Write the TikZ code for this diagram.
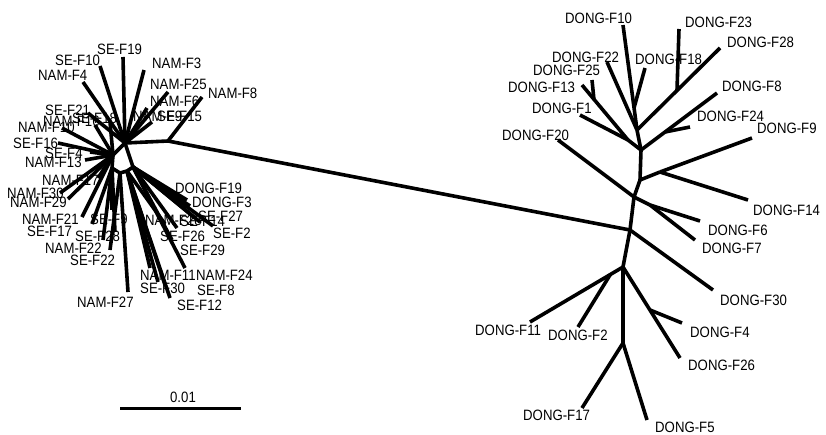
\documentclass[tikz,border=0pt]{standalone}
\usepackage{fontspec}
\newfontfamily\labfont[FakeStretch=0.88]{Liberation Sans}
\tikzset{
  br/.style={line width=3.6pt, line join=round},
  lab/.style={font={\labfont\fontsize{15}{15}\selectfont}, anchor=west, inner sep=0pt, text=black},
}
\begin{document}
\begin{tikzpicture}[x=1pt,y=-1pt]
\useasboundingbox (0,0) rectangle (826,434);
% ---------- left cluster hubs ----------
\coordinate (HU) at (125,143);
\coordinate (HM) at (113,155);
\coordinate (HLa) at (112,168);
\coordinate (HLb) at (120,173);
\coordinate (HLc) at (127,171);
\coordinate (HLd) at (133,167);
\coordinate (J) at (168,141);
% ---------- right tree internal nodes ----------
\coordinate (R1) at (630,230);
\coordinate (N2) at (634,197);
\coordinate (N3) at (640,180);
\coordinate (N4) at (641,150);
\coordinate (N5) at (637,130);
\coordinate (N10) at (634,108);
\coordinate (N23) at (677,90);
\coordinate (N1325) at (594,100);
\coordinate (NL) at (628,140);
\coordinate (N824) at (665,132);
\coordinate (N914) at (660,172);
\coordinate (N6) at (650,205);
\coordinate (N7) at (623,267);
\coordinate (N2x) at (610,275);
\coordinate (N426) at (650,310);
\coordinate (N8) at (623,343);
% backbone
\draw[br] (HM) -- (HU) -- (J) -- (R1);
\draw[br] (HM) -- (HLa) -- (HLb) -- (HLc) -- (HLd) -- (HU);
\draw[br] (N8) -- (N7) -- (R1) -- (N2) -- (N3) -- (N4) -- (N5);
\draw[br] (N3) -- (N914);
\draw[br] (N4) -- (NL);
% ---------- leaves: label / label pos / tip / hub ----------
\foreach \n/\lx/\ly/\tx/\ty/\h in {
  SE-F19/97/49/123/57/HU,
  SE-F10/55/60/100/66/HU,
  NAM-F3/152/63/144/70/HU,
  NAM-F4/38/75/83/82/HU,
  NAM-F25/150/84/168/92/HU,
  NAM-F8/208/93/202/97/J,
  NAM-F6/150/101/147/108/HU,
  NAM-F9/133/116/138/124/HU,
  SE-F15/157/116/152/122/HU,
  SE-F21/45/110/88/113/HU,
  NAM-F10/18/127/62/128/HM,
  NAM-F16/43/121/95/125/HM,
  SE-F18/72/118/110/122/HM,
  SE-F16/13/143/58/143/HM,
  SE-F4/45/153/90/152/HM,
  NAM-F13/25/162/85/160/HM,
  NAM-F17/42/180/98/178/HM,
  NAM-F30/7/193/60/193/HM,
  NAM-F29/10/202/68/199/HM,
  NAM-F21/22/219/82/217/HM,
  SE-F17/27/231/92/224/HLa,
  SE-F9/90/219/112/210/HLa,
  SE-F28/75/236/115/232/HLa,
  NAM-F22/45/248/103/240/HLa,
  SE-F22/70/260/110/250/HLb,
  NAM-F27/77/302/128/292/HLb,
  NAM-F11/140/275/150/268/HLc,
  SE-F30/140/288/158/282/HLc,
  NAM-F24/196/275/185/268/HLd,
  SE-F8/197/290/165/285/HLc,
  SE-F12/177/305/170/298/HLc,
  DONG-F19/175/188/187/200/HLd,
  DONG-F3/192/202/190/206/HLd,
  SE-F27/198/216/200/222/HLd,
  SE-F2/213/233/213/226/HLd,
  SE-F26/160/236/177/228/HLd,
  SE-F29/180/250/172/240/HLd,
  NAM-F28/145/220/165/224/HLc,
  SE-F14/180/221/195/218/HLd,
  DONG-F10/565/18/623/25/N5,
  DONG-F23/685/22/679/29/N23,
  DONG-F28/727/42/720/48/N5,
  DONG-F22/552/57/607/62/N5,
  DONG-F18/635/59/645/68/N10,
  DONG-F25/533/70/592/80/N1325,
  DONG-F13/508/87/582/85/NL,
  DONG-F8/722/86/717/93/N4,
  DONG-F1/532/108/580/115/NL,
  DONG-F24/697/116/690/127/N824,
  DONG-F9/757/128/752/138/N914,
  DONG-F20/502/135/558/140/N2,
  DONG-F14/753/210/748/200/N914,
  DONG-F6/708/230/700/221/N6,
  DONG-F7/702/248/695/240/N6,
  DONG-F30/720/300/713/290/R1,
  DONG-F11/475/330/530/322/N7,
  DONG-F2/548/335/578/327/N2x,
  DONG-F4/690/332/682/323/N426,
  DONG-F26/688/365/680/358/N7,
  DONG-F17/523/415/582/408/N8,
  DONG-F5/655/427/647/420/N8}{
  \coordinate (t-\n) at (\tx,\ty);
  \draw[br] (\h) -- (t-\n);
  \node[lab] (l-\n) at (\lx,\ly) {\n};
}
\draw[br] (N2) -- (N6);
% ---------- scale bar ----------
\coordinate (sb1) at (120,408);
\coordinate (sb2) at (241,408);
\draw[line width=3pt] (sb1) -- (sb2);
\node[lab, anchor=center] (sbl) at (183,397) {0.01};
\end{tikzpicture}
\end{document}
